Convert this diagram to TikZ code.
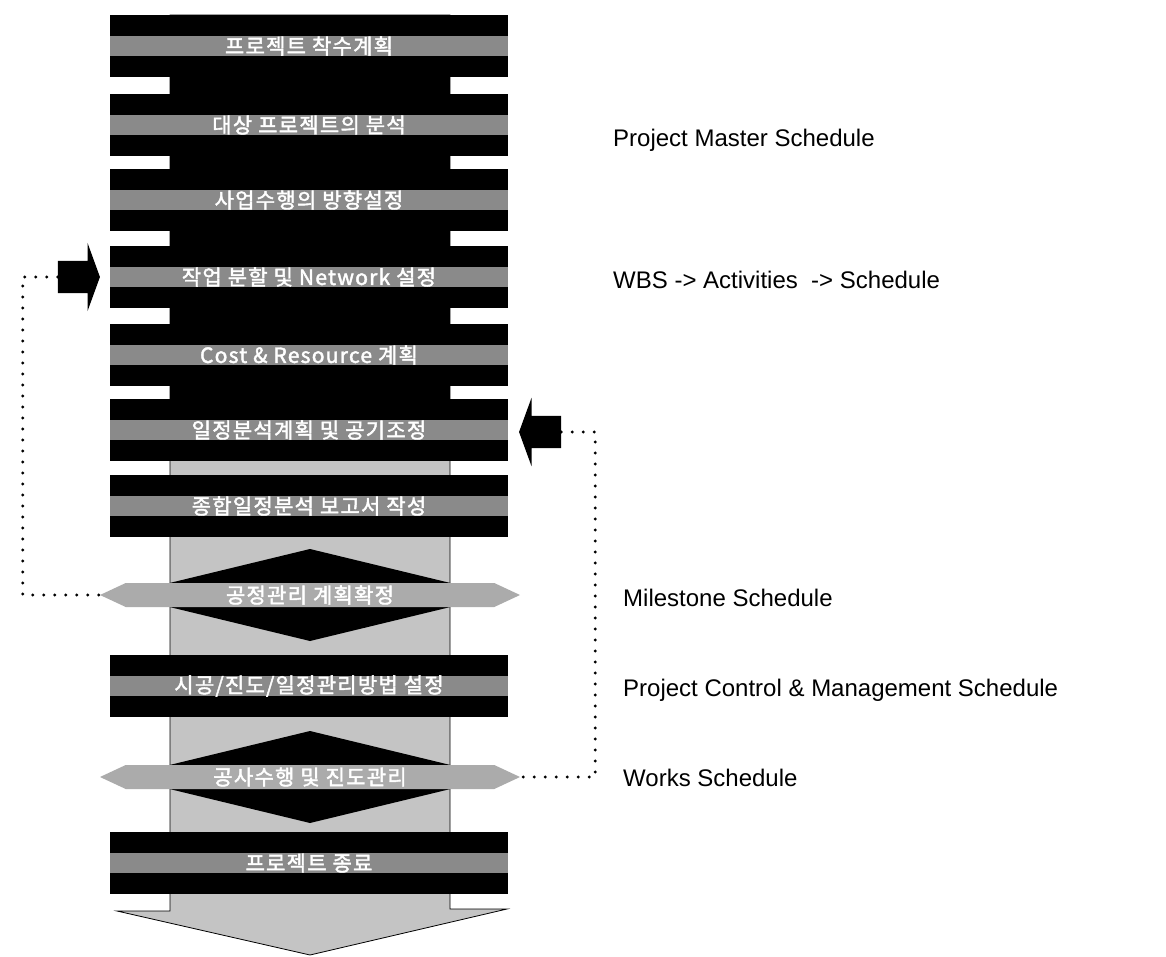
\documentclass[tikz,border=0pt]{standalone}
\usepackage{fontspec}
\setmainfont{Liberation Sans}
\newfontfamily\kr[AutoFakeBold=2,LetterSpace=6]{Noto Sans CJK KR}
\usetikzlibrary{shapes.arrows,shapes.symbols}
\definecolor{shaftgray}{HTML}{C4C4C4}
\definecolor{bandgray}{HTML}{8A8A8A}
\definecolor{dbandgray}{HTML}{ABABAB}
\begin{document}
\begin{tikzpicture}[x=1pt,y=-1pt,
  stepbox/.style={rectangle, fill=black, minimum width=398pt, minimum height=62pt,
    inner sep=0pt, text=white, font=\kr\bfseries\fontsize{21}{24}\selectfont,
    path picture={\fill[bandgray] ([yshift=-10pt]path picture bounding box.west)
      rectangle ([yshift=10pt]path picture bounding box.east);}},
  bandnode/.style={signal, signal to=west and east, signal pointer angle=50,
    fill=dbandgray, minimum width=420pt, minimum height=24pt, inner sep=0pt,
    text=white, font=\kr\bfseries\fontsize{21}{24}\selectfont},
  dotline/.style={line width=3.2pt, dash pattern=on 0pt off 11pt, line cap=round},
  blockarrow/.style={single arrow, fill=black, inner xsep=0pt, inner ysep=16pt,
    single arrow head extend=18pt, single arrow tip angle=140, minimum height=42pt},
  sidelabel/.style={anchor=west, inner sep=0pt, font=\fontsize{24}{28}\selectfont}
]
\useasboundingbox (0,0) rectangle (1166,957);
% big background arrow
\fill[shaftgray, draw=black, line width=0.8pt]
  (170,15) -- (170,911) -- (117,911) -- (310,955) -- (507,909) -- (450,909) -- (450,15) -- cycle;
\fill[black] (170,15) rectangle (450,400);
% diamonds
\fill[black] (310,549) -- (500,595) -- (310,641) -- (120,595) -- cycle;
\fill[black] (310,731) -- (500,777) -- (310,823) -- (120,777) -- cycle;
% steps
\node[stepbox] (b1) at (309,46) {프로젝트 착수계획};
\node[stepbox] (b2) at (309,125) {대상 프로젝트의 분석};
\node[stepbox] (b3) at (309,200) {사업수행의 방향설정};
\node[stepbox] (b4) at (309,277) {작업 분할 및 Network 설정};
\node[stepbox] (b5) at (309,355) {Cost \& Resource 계획};
\node[stepbox] (b6) at (309,430) {일정분석계획 및 공기조정};
\node[stepbox] (b7) at (309,506) {종합일정분석 보고서 작성};
\node[bandnode] (d1) at (310,595) {공정관리 계획확정};
\node[stepbox] (b9) at (309,686) {시공/진도/일정관리방법 설정};
\node[bandnode] (d2) at (310,777) {공사수행 및 진도관리};
\node[stepbox] (b11) at (309,863) {프로젝트 종료};
% block arrows
\node[blockarrow] (la) at (76,277) {};
\node[blockarrow, shape border rotate=180] (ra) at (543,432) {};
% feedback loops
\draw[dotline] (la.tail) -- ++(-35,0) |- (d1.west);
\draw[dotline] (ra.tail) -- ++(34,0) |- (d2.east);
% labels
\node[sidelabel] (t1) at (613,140) {Project Master Schedule};
\node[sidelabel] (t2) at (613,280) {WBS -> Activities \ -> Schedule};
\node[sidelabel] (t3) at (623,598) {Milestone Schedule};
\node[sidelabel] (t4) at (623,690) {Project Control \& Management Schedule};
\node[sidelabel] (t5) at (623,778) {Works Schedule};
\end{tikzpicture}
\end{document}
